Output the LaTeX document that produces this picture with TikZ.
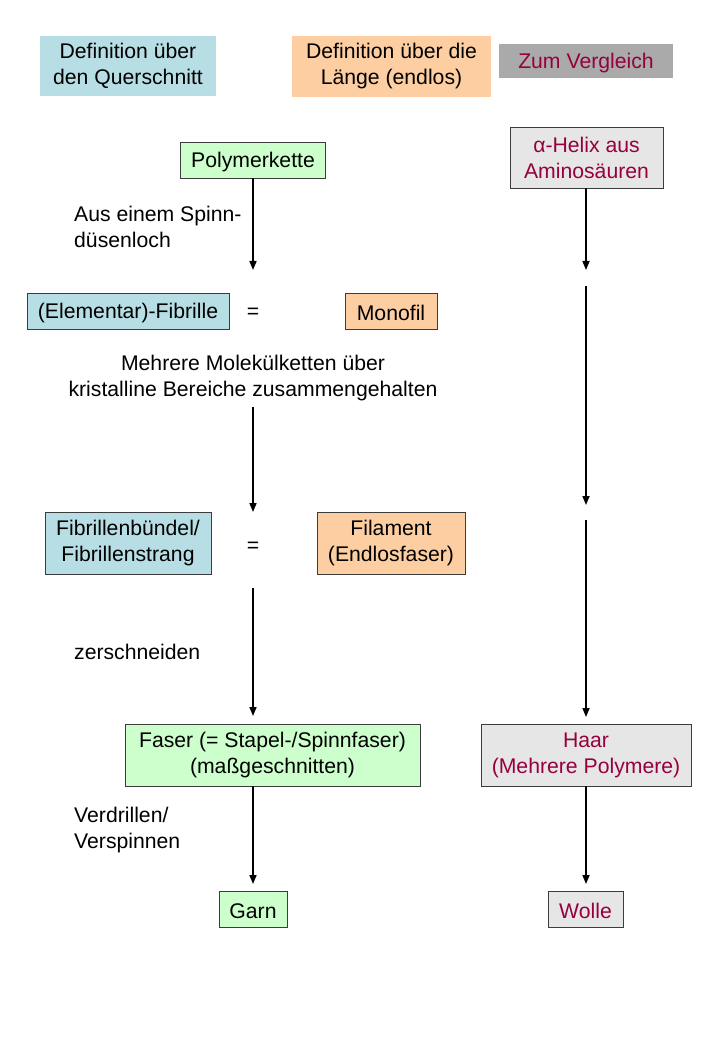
\documentclass[tikz,border=0pt]{standalone}
\usepackage{fontspec}
\setmainfont{Liberation Sans}
\usetikzlibrary{arrows.meta}
\definecolor{cyanfill}{RGB}{183,222,228}
\definecolor{orangefill}{RGB}{252,206,162}
\definecolor{greenfill}{RGB}{204,255,204}
\definecolor{grayfill}{RGB}{230,230,230}
\definecolor{headgray}{RGB}{170,170,170}
\definecolor{crimsontext}{RGB}{150,0,60}
\definecolor{boxline}{RGB}{60,60,60}
\begin{document}
\begin{tikzpicture}[x=1pt,y=-1pt,
  every node/.style={font=\fontsize{21.2}{26}\selectfont, align=center, inner sep=0pt},
  lowered/.style={execute at begin node={\rule{0pt}{20pt}}},
  box/.style={draw=boxline, line width=0.9pt, rectangle, lowered},
  head/.style={rectangle, lowered},
  cyanbox/.style={box, fill=cyanfill},
  orangebox/.style={box, fill=orangefill},
  greenbox/.style={box, fill=greenfill},
  graybox/.style={box, fill=grayfill, text=crimsontext},
  lbl/.style={align=left, anchor=west},
  arr/.style={-{Triangle[length=9pt,width=7pt]}, line width=1.6pt},
]
\useasboundingbox (0,0) rectangle (720,1040);
\fill[white] (0,0) rectangle (720,1040);

% headers
\node[head, fill=cyanfill, minimum width=176, minimum height=60] (h1) at (128,66) {Definition über\\den Querschnitt};
\node[head, fill=orangefill, minimum width=199, minimum height=61] (h2) at (391.5,66.5) {Definition über die\\Länge (endlos)};
\node[head, fill=headgray, text=crimsontext, minimum width=174, minimum height=34] (h3) at (586,61) {Zum Vergleich};

% left/middle column
\node[greenbox, minimum width=145, minimum height=36] (poly) at (253,160) {Polymerkette};
\node[cyanbox, minimum width=202, minimum height=36] (fib) at (128,311) {(Elementar)-Fibrille};
\node (eq1) at (253,313) {=};
\node[orangebox, minimum width=92, minimum height=36] (mono) at (391,311) {Monofil};
\node[cyanbox, minimum width=166, minimum height=62] (bund) at (128,543) {Fibrillenbündel/\\Fibrillenstrang};
\node (eq2) at (253,547) {=};
\node[orangebox, minimum width=148, minimum height=62] (fil) at (391,543) {Filament\\(Endlosfaser)};
\node[greenbox, minimum width=295, minimum height=62] (faser) at (272.5,755) {Faser (= Stapel-/Spinnfaser)\\(maßgeschnitten)};
\node[greenbox, minimum width=68, minimum height=36] (garn) at (253,909) {Garn};

% right column
\node[graybox, minimum width=153, minimum height=61] (helix) at (586.5,157.5) {α-Helix aus\\Aminosäuren};
\node[graybox, minimum width=210, minimum height=62] (haar) at (586,755) {Haar\\(Mehrere Polymere)};
\node[graybox, minimum width=75, minimum height=36] (wolle) at (585.5,909) {Wolle};

% labels
\node[lbl] (l1) at (74,227) {Aus einem Spinn-\\düsenloch};
\node (l2) at (253,378) {Mehrere Molekülketten über\\kristalline Bereiche zusammengehalten};
\node[lbl] (l3) at (74,652) {zerschneiden};
\node[lbl] (l4) at (74,830) {Verdrillen/\\Verspinnen};

% coordinates for free ends
\coordinate (a1) at (253,270);
\coordinate (a2s) at (253,407);
\coordinate (a2) at (253,512);
\coordinate (a3s) at (253,588);
\coordinate (a3) at (253,716);
\coordinate (a4) at (253,884);
\coordinate (r1) at (586,270);
\coordinate (r2s) at (586,286);
\coordinate (r2) at (586,505);
\coordinate (r3s) at (586,520);
\coordinate (r3) at (586,717);
\coordinate (r4) at (586,884);

% connectors
\draw[arr] (poly.south) -- (a1);
\draw[arr] (a2s) -- (a2);
\draw[arr] (a3s) -- (a3);
\draw[arr] (faser.south -| garn) -- (a4);
\draw[arr] (helix.south -| r1) -- (r1);
\draw[arr] (r2s) -- (r2);
\draw[arr] (r3s) -- (r3);
\draw[arr] (haar.south) -- (r4);
\end{tikzpicture}
\end{document}
